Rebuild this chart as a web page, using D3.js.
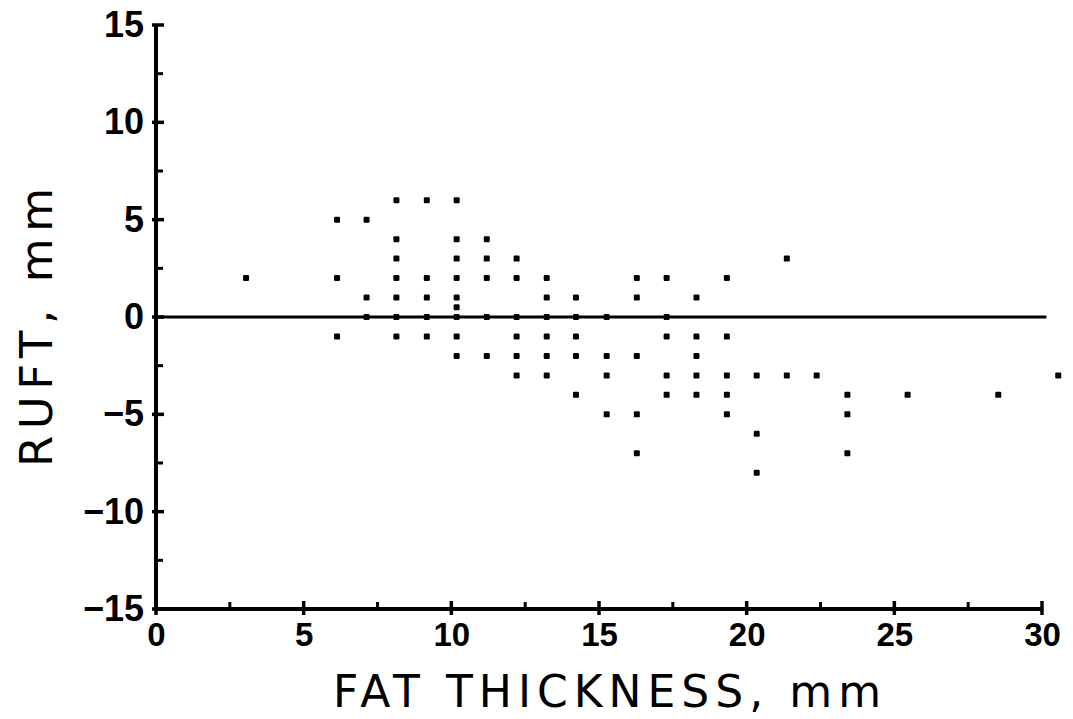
<!DOCTYPE html>
<html>
<head>
<meta charset="utf-8">
<script src="https://cdn.jsdelivr.net/npm/d3@7.9.0/dist/d3.min.js"></script>
<style>
  body { margin: 0; background: #fff; }
  svg { display: block; }
</style>
</head>
<body>
<svg></svg>
<script>
// points: fat thickness (mm) vs RUFT (mm)
const fatThickness = [
  3.05,
  6.13, 6.13, 6.13,
  7.13, 7.13, 7.13,
  8.14, 8.14, 8.14, 8.14, 8.14, 8.14, 8.14,
  9.17, 9.17, 9.17, 9.17, 9.17,
  10.18, 10.18, 10.18, 10.18, 10.18, 10.18, 10.18, 10.18, 10.18,
  11.2, 11.2, 11.2, 11.2, 11.2,
  12.21, 12.21, 12.21, 12.21, 12.21, 12.21,
  13.23, 13.23, 13.23, 13.23, 13.23, 13.23,
  14.22, 14.22, 14.22, 14.22, 14.22,
  15.26, 15.26, 15.26, 15.26,
  16.28, 16.28, 16.28, 16.28, 16.28,
  17.29, 17.29, 17.29, 17.29, 17.29,
  18.3, 18.3, 18.3, 18.3, 18.3,
  19.33, 19.33, 19.33, 19.33, 19.33,
  20.34, 20.34, 20.34,
  21.36, 21.36,
  22.37,
  23.41, 23.41, 23.41,
  25.45,
  28.52,
  30.55
];
const ruft = [
  2,
  5, 2, -1,
  5, 1, 0,
  6, 4, 3, 2, 1, 0, -1,
  6, 2, 1, 0, -1,
  6, 4, 3, 2, 1, 0.5, 0, -1, -2,
  4, 3, 2, 0, -2,
  3, 2, 0, -1, -2, -3,
  2, 1, 0, -1, -2, -3,
  1, 0, -1, -2, -4,
  0, -2, -3, -5,
  2, 1, -2, -5, -7,
  2, 0, -1, -3, -4,
  1, -1, -2, -3, -4,
  2, -1, -3, -4, -5,
  -3, -6, -8,
  3, -3,
  -3,
  -4, -5, -7,
  -4,
  -4,
  -3
];

const xTicks = [0, 5, 10, 15, 20, 25, 30];
const xMinorTicks = [2.5, 7.5, 12.5, 17.5, 22.5, 27.5];
const yTicks = [-15, -10, -5, 0, 5, 10, 15];
const yMinorTicks = [-12.5, -7.5, -2.5, 2.5, 7.5, 12.5];
const yTickLabels = ["\u221215", "\u221210", "\u22125", "0", "5", "10", "15"];

const width = 1073;
const height = 719;

const svg = d3.select("svg")
    .attr("width", width)
    .attr("height", height);

const x = d3.scaleLinear().domain([0, 30]).range([156, 1042]);
const y = d3.scaleLinear().domain([-15, 15]).range([609, 25]);

const labelFont = "'Liberation Sans', Arial, sans-serif";
const titleFont = "'DejaVu Sans', sans-serif";

// y axis labels
svg.append("g")
    .attr("transform", `translate(${x(0)},0)`)
    .call(d3.axisLeft(y).tickValues(yTicks).tickSize(0).tickPadding(12)
        .tickFormat((d, i) => yTickLabels[i]))
    .call(g => g.select(".domain").remove())
    .selectAll("text")
    .attr("font-family", labelFont)
    .attr("font-weight", "bold")
    .attr("font-size", 36)
    .attr("fill", "#000");

// x axis labels
svg.append("g")
    .attr("transform", `translate(0,${y(-15)})`)
    .call(d3.axisBottom(x).tickValues(xTicks).tickSize(0).tickPadding(14))
    .call(g => g.select(".domain").remove())
    .selectAll("text")
    .attr("font-family", labelFont)
    .attr("font-weight", "bold")
    .attr("font-size", 33)
    .attr("fill", "#000");

// axis lines
svg.append("line")
    .attr("x1", x(0)).attr("x2", x(0))
    .attr("y1", y(15) - 1).attr("y2", y(-15) + 2)
    .attr("stroke", "#000").attr("stroke-width", 4);
svg.append("line")
    .attr("x1", x(0) - 2).attr("x2", x(30) + 1)
    .attr("y1", y(-15)).attr("y2", y(-15))
    .attr("stroke", "#000").attr("stroke-width", 4);

// y ticks, major ones cross the axis
svg.selectAll(".ytick")
    .data(yTicks)
    .enter().append("line")
    .attr("class", "ytick")
    .attr("x1", x(0) - 4).attr("x2", x(0) + 8)
    .attr("y1", d => y(d)).attr("y2", d => y(d))
    .attr("stroke", "#000").attr("stroke-width", 3.5);
svg.selectAll(".yminor")
    .data(yMinorTicks)
    .enter().append("line")
    .attr("class", "yminor")
    .attr("x1", x(0)).attr("x2", x(0) + 7)
    .attr("y1", d => y(d)).attr("y2", d => y(d))
    .attr("stroke", "#000").attr("stroke-width", 3);

// x ticks
svg.selectAll(".xtick")
    .data(xTicks)
    .enter().append("line")
    .attr("class", "xtick")
    .attr("x1", d => x(d)).attr("x2", d => x(d))
    .attr("y1", y(-15) - 8).attr("y2", y(-15) + 6)
    .attr("stroke", "#000").attr("stroke-width", 3.5);
svg.selectAll(".xminor")
    .data(xMinorTicks)
    .enter().append("line")
    .attr("class", "xminor")
    .attr("x1", d => x(d)).attr("x2", d => x(d))
    .attr("y1", y(-15) - 7).attr("y2", y(-15))
    .attr("stroke", "#000").attr("stroke-width", 3);

// zero line
svg.append("line")
    .attr("x1", x(0)).attr("x2", x(30.15))
    .attr("y1", y(0)).attr("y2", y(0))
    .attr("stroke", "#000").attr("stroke-width", 3);

// data points (small square dots)
svg.selectAll(".data-point")
    .data(fatThickness.map((d, i) => [d, ruft[i]]))
    .enter().append("rect")
    .attr("class", "data-point")
    .attr("x", d => x(d[0]) - 3)
    .attr("y", d => y(d[1]) - 3)
    .attr("width", 6)
    .attr("height", 6)
    .attr("rx", 1.2)
    .attr("fill", "#000");

// axis titles
svg.append("text")
    .attr("x", 333)
    .attr("y", 707)
    .attr("textLength", 548)
    .attr("lengthAdjust", "spacing")
    .attr("font-family", titleFont)
    .attr("font-size", 44)
    .attr("fill", "#000")
    .text("FAT THICKNESS, mm");

svg.append("text")
    .attr("transform", "translate(52,467) rotate(-90)")
    .attr("textLength", 279)
    .attr("lengthAdjust", "spacing")
    .attr("font-family", titleFont)
    .attr("font-size", 45)
    .attr("fill", "#000")
    .text("RUFT, mm");
</script>
</body>
</html>
